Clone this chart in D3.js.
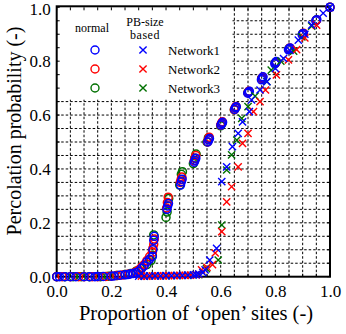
<!DOCTYPE html>
<html>
<head>
<meta charset="utf-8">
<script src="https://cdn.jsdelivr.net/npm/d3@7"></script>
<style>
  html, body { margin: 0; padding: 0; background: #fff; }
  svg { display: block; }
  text { font-family: "Liberation Serif", "Times New Roman", serif; fill: #000; }
</style>
</head>
<body>
<svg id="chart" width="346" height="334"></svg>
<script>
// Percolation probability versus proportion of open sites
const xTicks = [0, 0.2, 0.4, 0.6, 0.8, 1.0];
const yTicks = [0, 0.2, 0.4, 0.6, 0.8, 1.0];
const networks = ["Network1", "Network2", "Network3"];
const colors = ["#0000ff", "#ff0000", "#007000"];

// normal model, Network1
const normal1X = [0,0.01,0.03,0.05,0.07,0.1,0.12,0.14,0.15,0.17,0.2,0.21,0.23,0.25,0.26,0.27,0.28,0.29,0.3,0.31,0.32,0.33,0.34,0.35,0.352,0.355,0.357,
  0.403,0.406,0.409,0.453,0.456,0.459,0.503,0.506,0.509,0.553,0.556,0.559,0.601,0.604,0.607,0.651,0.654,0.657,0.699,0.702,0.705,
  0.749,0.752,0.755,0.798,0.801,0.804,0.848,0.851,0.854,0.898,0.902,0.948,0.952,1.0];
const normal1Y = [0,0,0,0,0,0,0,0,0.001,0.001,0.002,0.003,0.005,0.007,0.008,0.01,0.012,0.015,0.02,0.03,0.04,0.055,0.065,0.075,0.1,0.135,0.15,
  0.25,0.262,0.272,0.34,0.352,0.362,0.425,0.432,0.44,0.5,0.507,0.513,0.563,0.568,0.573,0.621,0.627,0.631,0.681,0.685,0.688,
  0.731,0.737,0.742,0.79,0.795,0.799,0.842,0.846,0.849,0.898,0.903,0.95,0.954,1.0];
// normal model, Network2
const normal2X = [0,0.02,0.05,0.08,0.1,0.13,0.15,0.18,0.2,0.22,0.24,0.26,0.28,0.29,0.3,0.31,0.32,0.33,0.34,0.35,0.352,0.355,0.357,
  0.402,0.405,0.408,0.452,0.455,0.458,0.503,0.506,0.509,0.552,0.555,0.558,0.6,0.603,0.606,0.65,0.653,0.656,0.7,0.703,
  0.75,0.753,0.8,0.803,0.85,0.853,0.9,0.903,0.95,1.0];
const normal2Y = [0,0,0,0,0,0,0,0.001,0.002,0.004,0.006,0.009,0.013,0.018,0.025,0.035,0.045,0.06,0.075,0.09,0.105,0.12,0.14,
  0.255,0.275,0.295,0.35,0.36,0.37,0.43,0.44,0.45,0.5,0.51,0.518,0.563,0.569,0.575,0.62,0.626,0.632,0.683,0.688,
  0.735,0.74,0.792,0.797,0.845,0.849,0.9,0.904,0.952,1.0];
// normal model, Network3
const normal3X = [0,0.03,0.06,0.09,0.12,0.16,0.19,0.22,0.25,0.27,0.29,0.31,0.33,0.345,0.35,0.355,
  0.4,0.404,0.41,0.45,0.456,0.46,0.5,0.505,0.51,0.55,0.555,0.6,0.605,0.65,0.655,0.7,0.75,0.8,0.85,0.9,0.95,1.0];
const normal3Y = [0,0,0,0,0,0,0.002,0.004,0.008,0.012,0.02,0.03,0.045,0.06,0.08,0.155,
  0.22,0.24,0.29,0.34,0.38,0.39,0.42,0.44,0.455,0.5,0.515,0.56,0.57,0.62,0.628,0.684,0.736,0.795,0.847,0.902,0.953,1.0];

// PB-size based model, Network1
const pb1X = [0.3,0.32,0.34,0.36,0.38,0.4,0.42,0.44,0.46,0.48,0.5,0.51,0.52,0.535,0.543,0.56,0.585,0.604,0.622,0.643,0.664,0.68,0.705,
  0.713,0.744,0.769,0.8,0.83,0.853,0.884,0.908,0.933,0.975,1.0];
const pb1Y = [0.002,0.002,0.003,0.003,0.003,0.004,0.004,0.005,0.005,0.006,0.007,0.008,0.01,0.015,0.025,0.062,0.105,0.353,0.408,0.483,0.532,0.575,0.613,
  0.656,0.693,0.724,0.773,0.81,0.84,0.878,0.9,0.934,0.978,1.0];
// PB-size based model, Network2
const pb2X = [0.31,0.33,0.35,0.37,0.39,0.41,0.43,0.45,0.47,0.49,0.51,0.52,0.53,0.55,0.57,0.58,0.604,0.622,0.64,0.664,0.68,0.70,0.72,
  0.744,0.764,0.804,0.848,0.878,0.908,0.951];
const pb2Y = [0.002,0.002,0.003,0.003,0.003,0.004,0.004,0.005,0.005,0.006,0.007,0.009,0.025,0.035,0.045,0.088,0.167,0.278,0.334,0.408,0.495,0.532,0.613,
  0.65,0.693,0.749,0.805,0.843,0.886,0.934];
// PB-size based model, Network3
const pb3X = [0.32,0.36,0.4,0.44,0.48,0.52,0.548,0.591,0.604,0.622,0.64,0.659,0.677,0.70,0.726,0.769,0.785,0.82,0.867,0.897,0.933];
const pb3Y = [0.002,0.003,0.003,0.004,0.005,0.008,0.03,0.062,0.192,0.396,0.452,0.507,0.588,0.631,0.67,0.724,0.767,0.80,0.837,0.89,0.93];

const normalSeries = [[normal1X, normal1Y], [normal2X, normal2Y], [normal3X, normal3Y]];
const pbSeries = [[pb1X, pb1Y], [pb2X, pb2Y], [pb3X, pb3Y]];

const svg = d3.select("#chart");
const plotLeft = 56.7, plotRight = 330, plotTop = 7.3, plotBottom = 276.7;
const x = d3.scaleLinear().domain([0, 1]).range([plotLeft, plotRight]);
const y = d3.scaleLinear().domain([0, 1]).range([plotBottom, plotTop]);
const gridVals = d3.range(0, 21).map(i => i * 0.05);

// dotted grid every 0.05
const grid = svg.append("g");
grid.selectAll("line.v").data(gridVals.slice(1, -1)).join("line")
  .attr("x1", d => x(d)).attr("x2", d => x(d)).attr("y1", y(0)).attr("y2", y(1))
  .attr("stroke", "#000").attr("stroke-width", 1).attr("stroke-dasharray", "2.5,2");
grid.selectAll("line.h").data(gridVals.slice(1, -1)).join("line")
  .attr("y1", d => y(d)).attr("y2", d => y(d)).attr("x1", x(0)).attr("x2", x(1))
  .attr("stroke", "#000").attr("stroke-width", 1).attr("stroke-dasharray", "2.5,2");

// legend background
svg.append("rect").attr("x", x(0) + 1).attr("y", y(1) + 1)
  .attr("width", x(0.643) - x(0) - 1).attr("height", y(0.657) - y(1) - 1).attr("fill", "#fff");

// inner ticks on all sides
const ticks = svg.append("g").attr("stroke", "#000").attr("stroke-width", 1);
gridVals.forEach(v => {
  ticks.append("line").attr("x1", x(0)).attr("x2", x(0) + 3).attr("y1", y(v)).attr("y2", y(v));
  ticks.append("line").attr("x1", x(1)).attr("x2", x(1) - 3).attr("y1", y(v)).attr("y2", y(v));
  ticks.append("line").attr("y1", y(1)).attr("y2", y(1) + 3).attr("x1", x(v)).attr("x2", x(v));
  ticks.append("line").attr("y1", y(0)).attr("y2", y(0) - 3).attr("x1", x(v)).attr("x2", x(v));
});

// axes tick labels
const xAxis = d3.axisBottom(x).tickValues(xTicks).tickFormat(d3.format(".1f")).tickSize(0).tickPadding(8);
const yAxis = d3.axisLeft(y).tickValues(yTicks).tickFormat(d3.format(".1f")).tickSize(0).tickPadding(6);
const gx = svg.append("g").attr("transform", `translate(0,${plotBottom})`).call(xAxis);
const gy = svg.append("g").attr("transform", `translate(${plotLeft},0)`).call(yAxis);
[gx, gy].forEach(g => {
  g.select(".domain").remove();
  g.selectAll("text").style("font-family", '"Liberation Serif", "Times New Roman", serif').style("font-size", "17px").attr("fill", "#000");
});
// keep the top label inside the page
gy.selectAll(".tick").filter(d => d === 1).select("text").attr("dy", "0.42em");

// frame
svg.append("rect").attr("x", plotLeft).attr("y", plotTop - 1).attr("width", plotRight - plotLeft).attr("height", plotBottom - plotTop + 1)
  .attr("fill", "none").attr("stroke", "#000").attr("stroke-width", 2);

// axis titles
svg.append("text").attr("x", 196).attr("y", 320).attr("text-anchor", "middle")
  .style("font-size", "20.5px").text("Proportion of \u2018open\u2019 sites (-)");
svg.append("text").attr("transform", "translate(21,131) rotate(-90)").attr("text-anchor", "middle")
  .style("font-size", "20px").text("Percolation probability (-)");

// markers
const r = 4, c = 3.6;
function cross(g, cx, cy, color) {
  g.append("path").attr("d", `M${cx - c},${cy - c}L${cx + c},${cy + c}M${cx - c},${cy + c}L${cx + c},${cy - c}`)
    .attr("stroke", color).attr("stroke-width", 1.4).attr("fill", "none");
}
const marks = svg.append("g");
[2, 1, 0].forEach(i => {
  const [xs, ys] = normalSeries[i];
  marks.append("g").selectAll("circle").data(d3.zip(xs, ys)).join("circle")
    .attr("cx", d => x(d[0])).attr("cy", d => y(d[1])).attr("r", r)
    .attr("fill", "none").attr("stroke", colors[i]).attr("stroke-width", 1.5);
});
[2, 1, 0].forEach(i => {
  const [xs, ys] = pbSeries[i];
  const g = marks.append("g");
  d3.zip(xs, ys).forEach(d => cross(g, x(d[0]), y(d[1]), colors[i]));
});

// legend
const lg = svg.append("g");
lg.append("text").attr("x", 92).attr("y", 32).attr("text-anchor", "middle").style("font-size", "12px").text("normal");
lg.append("text").attr("x", 145).attr("y", 26).attr("text-anchor", "middle").style("font-size", "12px").text("PB-size");
lg.append("text").attr("x", 145).attr("y", 39).attr("text-anchor", "middle").style("font-size", "12px").style("letter-spacing", "0.5px").text("based");
networks.forEach((n, i) => {
  const ly = 50 + i * 19;
  lg.append("circle").attr("cx", 95).attr("cy", ly).attr("r", r)
    .attr("fill", "none").attr("stroke", colors[i]).attr("stroke-width", 1.4);
  cross(lg, 143, ly, colors[i]);
  lg.append("text").attr("x", 168).attr("y", ly + 4.5).style("font-size", "13px").text(n);
});
</script>
</body>
</html>
